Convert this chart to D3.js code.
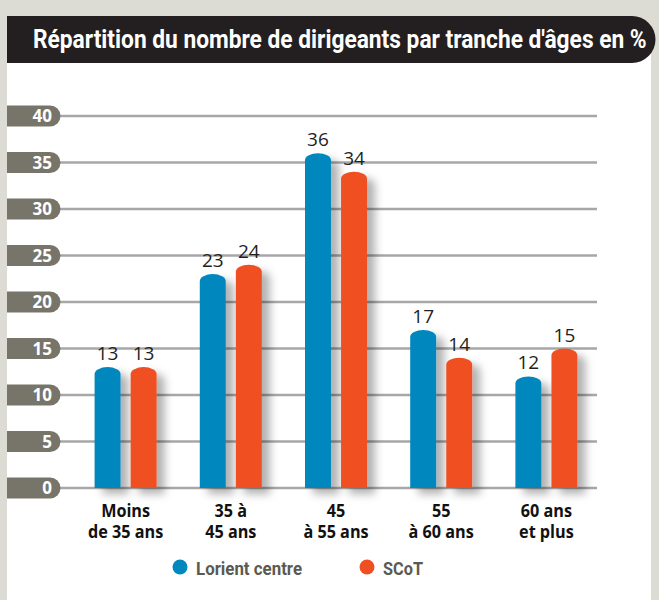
<!DOCTYPE html>
<html>
<head>
<meta charset="utf-8">
<script src="https://cdn.jsdelivr.net/npm/d3@7"></script>
<style>
  body { margin: 0; background: #dcdcd4; }
  svg { display: block; }
</style>
</head>
<body>
<div id="chart"></div>
<script>
const title = "Répartition du nombre de dirigeants par tranche d'âges en %";
const categories = [["Moins", "de 35 ans"], ["35 à", "45 ans"], ["45", "à 55 ans"], ["55", "à 60 ans"], ["60 ans", "et plus"]];
const seriesNames = ["Lorient centre", "SCoT"];
const lorient = [13, 23, 36, 17, 12];
const scot = [13, 24, 34, 14, 15];
const yTicks = [0, 5, 10, 15, 20, 25, 30, 35, 40];
const colors = ["#0087bd", "#f04f23"];

const W = 659, H = 600;
const svg = d3.select("#chart").append("svg").attr("width", W).attr("height", H);

const defs = svg.append("defs");
const f = defs.append("filter").attr("id", "shadow")
  .attr("x", "-50%").attr("y", "-20%").attr("width", "250%").attr("height", "140%");
f.append("feDropShadow").attr("dx", 8).attr("dy", 6).attr("stdDeviation", 4.5)
  .attr("flood-color", "#000").attr("flood-opacity", 0.3);

// backgrounds
svg.append("rect").attr("width", W).attr("height", H).attr("fill", "#dcdcd4");
svg.append("rect").attr("x", 7).attr("y", 40).attr("width", 644).attr("height", H - 40).attr("fill", "#fff");

// title bar
svg.append("path")
  .attr("d", "M7,16 H632 A23.5,23.5 0 0 1 632,63 H7 Z")
  .attr("fill", "#231f20");
svg.append("text")
  .attr("transform", "translate(33,48) scale(0.875,1)")
  .style("font-family", "Roboto, 'Liberation Sans', sans-serif")
  .style("font-weight", "bold").style("font-size", "26px")
  .attr("fill", "#fff")
  .text(title);

const y = d3.scaleLinear().domain([0, 40]).range([488, 116]);
const x = d3.scaleBand().domain(d3.range(categories.length)).range([73, 599]).paddingInner(0).paddingOuter(0);
const x1 = d3.scaleBand().domain([0, 1]).range([-31, 31]).paddingInner(0.28);

// gridlines + tick pills
const ticks = svg.append("g");
yTicks.forEach(t => {
  ticks.append("line")
    .attr("x1", 55).attr("x2", 597)
    .attr("y1", y(t)).attr("y2", y(t))
    .attr("stroke", "#a7a7a7").attr("stroke-width", 2.5);
  ticks.append("path")
    .attr("d", `M7,${y(t) - 10.5} H50 A10.5,10.5 0 0 1 50,${y(t) + 10.5} H7 Z`)
    .attr("fill", "#77756a");
  ticks.append("text")
    .attr("x", 52).attr("y", y(t) + 6)
    .attr("text-anchor", "end")
    .style("font-family", "'Open Sans', sans-serif")
    .style("font-weight", "bold").style("font-size", "17px")
    .attr("fill", "#fff")
    .text(t);
});

function barPath(bx, w, v) {
  const top = y(v), base = y(0), ry = 7;
  return `M${bx},${base} V${top + ry} A${w / 2},${ry} 0 0 1 ${bx + w},${top + ry} V${base} Z`;
}

const series = [lorient, scot];
const groups = svg.append("g");
categories.forEach((c, i) => {
  const cx = x(i) + x.bandwidth() / 2;
  series.forEach((s, j) => {
    const bx = cx + x1(j);
    const w = x1.bandwidth();
    groups.append("path")
      .attr("d", barPath(bx, w, s[i]))
      .attr("fill", colors[j])
      .attr("filter", "url(#shadow)");
    groups.append("text")
      .attr("x", bx + w / 2).attr("y", y(s[i]) - 7)
      .attr("text-anchor", "middle")
      .style("font-family", "'Open Sans', sans-serif")
      .style("font-size", "19px")
      .attr("fill", "#231f20")
      .text(s[i]);
  });
  const lbl = groups.append("text")
    .attr("transform", `translate(${cx},517) scale(0.9,1)`)
    .attr("text-anchor", "middle")
    .style("font-family", "'Open Sans', sans-serif")
    .style("font-weight", "bold").style("font-size", "18px")
    .attr("fill", "#111");
  c.forEach((line, k) => {
    lbl.append("tspan").attr("x", 0).attr("dy", k === 0 ? 0 : 21).text(line);
  });
});

// legend
const legendX = [180, 367];
seriesNames.forEach((n, j) => {
  svg.append("circle").attr("cx", legendX[j]).attr("cy", 567).attr("r", 7.5).attr("fill", colors[j]);
  svg.append("text")
    .attr("x", legendX[j] + 16).attr("y", 575)
    .attr("textLength", j === 0 ? 106 : 40).attr("lengthAdjust", "spacingAndGlyphs")
    .style("font-family", "Roboto, sans-serif")
    .style("font-weight", "bold").style("font-size", "19px")
    .attr("fill", "#5b5a50")
    .text(n);
});
</script>
</body>
</html>
